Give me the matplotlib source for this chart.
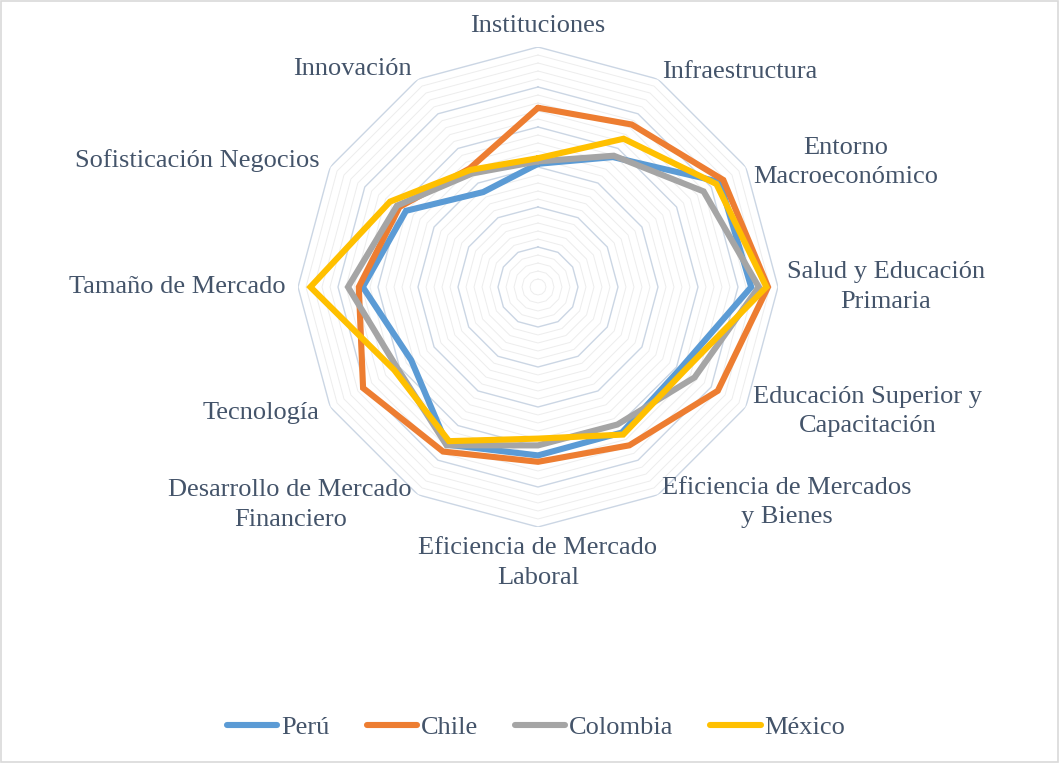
import numpy as np
import matplotlib
matplotlib.use('Agg')
import matplotlib.pyplot as plt
from matplotlib.patches import Rectangle

# pilares del indice de competitividad
categorias = ['Instituciones', 'Infraestructura', 'Entorno\nMacroeconómico',
              'Salud y Educación\nPrimaria', 'Educación Superior y\nCapacitación',
              'Eficiencia de Mercados\ny Bienes', 'Eficiencia de Mercado\nLaboral',
              'Desarrollo de Mercado\nFinanciero', 'Tecnología', 'Tamaño de Mercado',
              'Sofisticación Negocios', 'Innovación']

peru = [3.08, 3.75, 5.25, 5.33, 4.10, 4.20, 4.21, 4.55, 3.66, 4.38, 3.81, 2.74]
chile = [4.48, 4.69, 5.35, 5.75, 5.19, 4.57, 4.37, 4.75, 5.05, 4.48, 4.00, 3.42]
colombia = [3.14, 3.79, 4.78, 5.52, 4.52, 3.97, 3.96, 4.57, 4.06, 4.75, 4.07, 3.28]
mexico = [3.22, 4.28, 5.15, 5.71, 4.21, 4.26, 3.79, 4.45, 4.15, 5.69, 4.27, 3.38]

series = ['Perú', 'Chile', 'Colombia', 'México']
colores = ['#5B9BD5', '#ED7D31', '#A5A5A5', '#FFC000']
texto = '#44546A'

plt.rcParams['font.family'] = ['Liberation Serif', 'DejaVu Serif']

fig = plt.figure(figsize=(10.6, 7.63), dpi=100)
fig.patches.append(Rectangle((0.0005, 0.0007), 0.998, 0.998, transform=fig.transFigure,
                             fill=False, edgecolor='#D9D9D9', linewidth=1.2))
ax = fig.add_axes([298 / 1060, 236 / 763, 480 / 1060, 480 / 763], projection='polar')
ax.set_theta_zero_location('N')
ax.set_theta_direction(-1)
ax.set_ylim(0, 6)
ax.set_xticks([])
ax.set_yticks([])
ax.grid(False)
ax.spines['polar'].set_visible(False)
ax.patch.set_visible(False)

n = len(categorias)
ang = np.arange(n) * 2 * np.pi / n
ang_c = np.append(ang, ang[0])

# grid poligonal: menores cada 0.2, mayores cada 1
for k in range(1, 31):
    r = k * 0.2
    if k % 5 == 0:
        ax.plot(ang_c, [r] * (n + 1), color='#CBD6E4', lw=1.0, zorder=1)
    else:
        ax.plot(ang_c, [r] * (n + 1), color='#EDEDED', lw=0.7, zorder=0)

for i, vals in enumerate([peru, chile, colombia, mexico]):
    v = np.append(vals, vals[0])
    ax.plot(ang_c, v, color=colores[i], lw=4.4, label=series[i],
            solid_joinstyle='miter', solid_capstyle='round', zorder=3 + i)

for a, lab in zip(ang, categorias):
    s = np.sin(a)
    c = np.cos(a)
    if abs(s) < 0.01:
        ha = 'center'
        va = 'bottom' if c > 0 else 'top'
        r = 6.25
    elif s > 0:
        ha, va, r = 'left', 'center', 6.22
    else:
        ha, va, r = 'right', 'center', 6.3
    ax.text(a, r, lab, ha=ha, va=va, ma='center', fontsize=19, color=texto,
            linespacing=1.45)

leg = fig.legend(loc='center', bbox_to_anchor=(0.506, 0.047), ncol=4, frameon=False,
                 fontsize=19, handlelength=1.9, handletextpad=0.15, columnspacing=1.4)
for t in leg.get_texts():
    t.set_color(texto)

fig.savefig('out.png', dpi=100, facecolor='white')
